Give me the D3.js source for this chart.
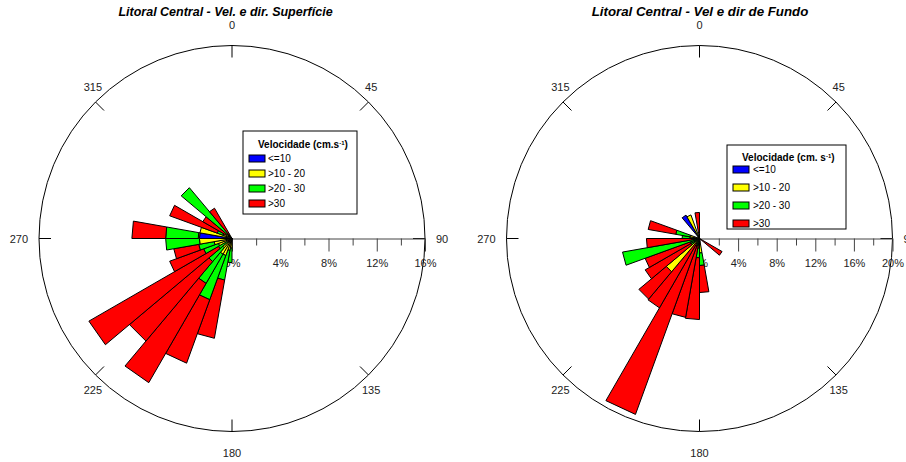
<!DOCTYPE html>
<html><head><meta charset="utf-8">
<script src="https://cdn.jsdelivr.net/npm/d3@7"></script>
<style>body{margin:0;background:#fff}text{font-family:Arial,"Liberation Sans",sans-serif}</style>
</head><body><svg id="c" width="906" height="462"></svg>
<script>
// ---------- DATA ----------
const classNames = ["<=10", ">10 - 20", ">20 - 30", ">30"];
const classColors = ["#0000ff", "#ffff00", "#00ff00", "#ff0000"];
const dirLabels = ["0", "45", "90", "135", "180", "225", "270", "315"];
const dirAngles = [0, 45, 90, 135, 180, 225, 270, 315];

// Surface (left): sector centre direction (deg) and % per speed class
const surfDir   = [185, 195, 205, 215, 225, 235, 245, 255, 265, 275, 285, 295, 305, 315, 325];
const surfBlue  = [0,   0,   0,   0,   0,   0,   0,   0,   0,   2.7, 0,   0,   0,   0,   0];
const surfYell  = [0.8, 1.0, 1.5, 1.5, 1.0, 0.5, 1.2, 1.5, 2.7, 0.1, 2.7, 0.8, 0.6, 0.5, 0.4];
const surfGreen = [1.2, 2.5, 3.9, 2.8, 1.5, 0.8, 1.3, 1.3, 2.8, 2.7, 0,   0.5, 0,   5.0, 0];
const surfRed   = [0,   4.9, 5.6, 9.5, 8.6, 12.4, 3.0, 2.1, 0,  2.8, 0,   4.2, 2.2, 0,   2.5];
const surfTicks = [0, 4, 8, 12, 16];
const surfMinor = [2, 6, 10, 14];

// Bottom (right)
const fundDir   = [125, 175, 185, 195, 205, 215, 225, 235, 245, 255, 265, 275, 285, 325, 335, 355];
const fundBlue  = [0,   0,   0,   0,   0,   0,   0,   0,   0,   0,   0,   0,   0,   2.8, 0,   0];
const fundYell  = [0,   1.5, 1.0, 0.3, 0.3, 0,   4.5, 0.5, 0.3, 0.4, 0.3, 1.0, 1.0, 0,   2.6, 0.5];
const fundGreen = [0,   1.3, 1.0, 0.5, 0.5, 0.5, 0,   0.5, 0.7, 7.7, 0.5, 0.8, 1.5, 0,   0,   0];
const fundRed   = [2.7, 2.8, 6.4, 7.5, 18.6, 7.8, 3.7, 5.5, 5.0, 0, 4.7, 0,   2.9, 0,   0,   2.2];
const fundTicks = [0, 4, 8, 12, 16, 20];
const fundMinor = [2, 6, 10, 14, 18];

// ---------- DRAW ----------
const svg = d3.select("#c");
const R = 193;

function rose(opt) {
  const g = svg.append("g");
  const cx = opt.cx, cy = opt.cy;
  const r = d3.scaleLinear().domain([0, opt.max]).range([0, R]);
  const pt = (rad, deg) => {
    const a = deg * Math.PI / 180;
    return [cx + rad * Math.sin(a), cy - rad * Math.cos(a)];
  };
  // title
  g.append("text").attr("x", opt.titleX).attr("y", 16).attr("text-anchor", "middle")
    .attr("font-size", opt.titleSize).attr("font-weight", "bold").attr("font-style", "italic")
    .text(opt.title);
  // circle
  g.append("circle").attr("cx", cx).attr("cy", cy).attr("r", R)
    .attr("fill", "none").attr("stroke", "#000").attr("stroke-width", 1);
  // ticks on circle + direction labels
  dirAngles.forEach((d, i) => {
    const p0 = pt(R, d), p1 = pt(R - 12, d);
    g.append("line").attr("x1", p0[0]).attr("y1", p0[1]).attr("x2", p1[0]).attr("y2", p1[1])
      .attr("stroke", "#000");
    const t = g.append("text").attr("font-size", 11).attr("fill", "#222")
      .attr("text-anchor", "middle").attr("dominant-baseline", "central").text(dirLabels[i]);
    const w = t.node().getComputedTextLength();
    let off = R + 13, ang = d;
    if (d % 180 === 0) off = R + 21;
    else if (d % 90 === 0) off = R + 11 + w / 2;
    else {
      // diagonal labels sit slightly toward the vertical axis
      const toward = (d === 45 || d === 225) ? -2.5 : 2.5;
      ang = d + toward;
    }
    const p = pt(off, ang);
    t.attr("x", p[0]).attr("y", p[1]);
  });
  // radial axis
  const xs = d3.scaleLinear().domain([0, opt.max]).range([cx, cx + R]);
  const ax = g.append("g").attr("transform", `translate(0,${cy})`)
    .call(d3.axisBottom(xs).tickValues(opt.ticks).tickSize(13).tickSizeOuter(0).tickPadding(8)
      .tickFormat(d => d + "%"));
  ax.select(".domain").attr("stroke", "#444");
  ax.selectAll(".tick line").attr("stroke", "#444");
  ax.selectAll("text").attr("font-size", 11).attr("fill", "#222").attr("font-family", "Arial,'Liberation Sans',sans-serif");
  const mn = g.append("g").attr("transform", `translate(0,${cy})`)
    .call(d3.axisBottom(xs).tickValues(opt.minor).tickSize(7).tickSizeOuter(0).tickFormat(""));
  mn.select(".domain").remove();
  mn.selectAll(".tick line").attr("stroke", "#444");

  // bars (stacked)
  const rows = opt.dir.map((d, i) => ({dir: d, c0: opt.vals[0][i], c1: opt.vals[1][i], c2: opt.vals[2][i], c3: opt.vals[3][i]}));
  const stack = d3.stack().keys(["c0", "c1", "c2", "c3"])(rows);
  const segs = [];
  rows.forEach((row, i) => {
    stack.forEach((layer, k) => {
      const [a, b] = layer[i];
      if (b - a > 0) segs.push({dir: row.dir, a, b, k});
    });
  });
  const bars = g.append("g");
  bars.selectAll("path").data(segs).join("path")
    .attr("d", s => {
      const p = [pt(r(s.a), s.dir - 5), pt(r(s.b), s.dir - 5), pt(r(s.b), s.dir + 5), pt(r(s.a), s.dir + 5)];
      return "M" + p.map(q => q.join(",")).join("L") + "Z";
    })
    .attr("fill", s => classColors[s.k]).attr("stroke", "#000").attr("stroke-width", 1)
    .attr("stroke-linejoin", "miter");

  // legend
  const L = opt.legend;
  const lg = g.append("g");
  lg.append("rect").attr("x", L.x).attr("y", L.y).attr("width", L.w).attr("height", L.h)
    .attr("fill", "#fff").attr("stroke", "#000");
  const tt = lg.append("text").attr("x", L.x + L.tx).attr("y", L.y + L.ty)
    .attr("font-size", L.fs).attr("font-weight", "bold");
  tt.append("tspan").text(L.title);
  tt.append("tspan").attr("font-size", L.fs * 0.6).attr("dy", -L.fs * 0.35).text("-1");
  tt.append("tspan").attr("dy", L.fs * 0.35).text(")");
  classNames.forEach((nm, k) => {
    const y = L.y + L.sy + k * L.step;
    lg.append("rect").attr("x", L.x + 6).attr("y", y).attr("width", 16).attr("height", 7)
      .attr("fill", classColors[k]).attr("stroke", "#000");
    lg.append("text").attr("x", L.x + L.lx).attr("y", y + 3.5).attr("dominant-baseline", "central")
      .attr("font-size", L.fs).text(nm);
  });
}

rose({cx: 232, cy: 238.5, max: 16, ticks: surfTicks, minor: surfMinor,
  dir: surfDir, vals: [surfBlue, surfYell, surfGreen, surfRed],
  title: "Litoral Central - Vel. e dir. Superfície", titleX: 225.5, titleSize: 12.5,
  legend: {x: 243, y: 131, w: 114, h: 83, tx: 15, ty: 17, fs: 10, sy: 24, step: 15, lx: 25, title: "Velocidade (cm.s"}});
rose({cx: 699.5, cy: 238.5, max: 20, ticks: fundTicks, minor: fundMinor,
  dir: fundDir, vals: [fundBlue, fundYell, fundGreen, fundRed],
  title: "Litoral Central - Vel e dir de Fundo", titleX: 700, titleSize: 13.3,
  legend: {x: 727, y: 145, w: 119, h: 84, tx: 15, ty: 16, fs: 10, sy: 21, step: 18, lx: 26, title: "Velocidade (cm. s"}});
</script></body></html>
